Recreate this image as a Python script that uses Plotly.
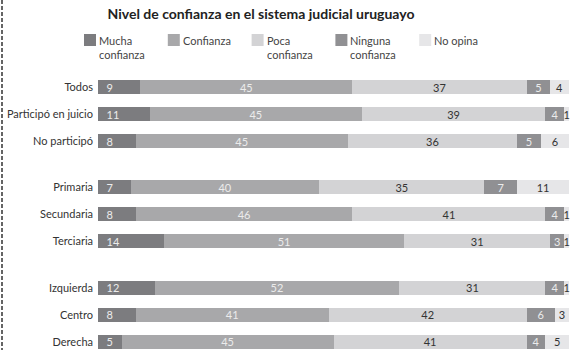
import plotly.graph_objects as go

# Survey groups (rows) and the share of each answer, in percent
groups = [
    ["Todos", "Participó en juicio", "No participó"],
    ["Primaria", "Secundaria", "Terciaria"],
    ["Izquierda", "Centro", "Derecha"],
]
series_names = ["Mucha<br>confianza", "Confianza", "Poca<br>confianza", "Ninguna<br>confianza", "No opina"]

mucha = [9, 11, 8, 7, 8, 14, 12, 8, 5]
confianza = [45, 45, 45, 40, 46, 51, 52, 41, 45]
poca = [37, 39, 36, 35, 41, 31, 31, 42, 41]
ninguna = [5, 4, 5, 7, 4, 3, 4, 6, 4]
no_opina = [4, 1, 6, 11, 1, 1, 1, 3, 5]

values = [mucha, confianza, poca, ninguna, no_opina]
colors = ["#7c7c7f", "#a8a8aa", "#d3d3d5", "#909093", "#e6e6e8"]
text_colors = ["#ececec", "#ececec", "#333333", "#ececec", "#333333"]
anchors = ["start", "middle", "middle", "middle", "middle"]
# small lead-in so start-anchored labels sit a little inside the bar
prefixes = ["\u2002", "", "", "", ""]

# Row positions: one unit per row, with an extra gap between groups
GROUP_GAP = 0.72
labels, ypos = [], []
for g, grp in enumerate(groups):
    for i, name in enumerate(grp):
        labels.append(name)
        ypos.append(g * (len(grp) + GROUP_GAP) + i)

FONT = "Lato"
W, H = 574, 350
ML, MR, MT, MB = 98, 5, 70, 0
PW, PH = W - ML - MR, H - MT - MB

fig = go.Figure()
for name, vals, col, tcol, anc, pre in zip(series_names, values, colors, text_colors, anchors, prefixes):
    fig.add_trace(go.Bar(
        y=ypos, x=vals, orientation="h", name=name,
        marker=dict(color=col, line=dict(width=0)),
        width=0.52,
        text=[pre + str(v) for v in vals],
        textposition="inside",
        insidetextanchor=anc,
        textangle=0,
        textfont=dict(family=FONT, size=11, color=tcol),
        cliponaxis=False,
        showlegend=False,
        hoverinfo="skip",
    ))


def px_x(px):
    return (px - ML) / PW


def px_y(py):
    return (H - MB - py) / PH


# Legend drawn as swatches plus labels
shapes, annotations = [], []
for k, (name, col) in enumerate(zip(series_names, colors)):
    x0 = 84 + k * 83.8
    shapes.append(dict(type="rect", xref="paper", yref="paper",
                       x0=px_x(x0), x1=px_x(x0 + 12), y0=px_y(46), y1=px_y(34),
                       fillcolor=col, line=dict(width=0)))
    annotations.append(dict(xref="paper", yref="paper", x=px_x(x0 + 13), y=px_y(32),
                            xanchor="left", yanchor="top", align="left", showarrow=False,
                            text=name, font=dict(family=FONT, size=11, color="#444444")))

# Dashed frame line along the left edge
shapes.append(dict(type="line", xref="paper", yref="paper",
                   x0=px_x(2), x1=px_x(2), y0=px_y(0), y1=px_y(H),
                   line=dict(color="#333333", width=1.5, dash="4px,2px")))

fig.update_layout(
    barmode="stack",
    width=W, height=H,
    margin=dict(l=ML, r=MR, t=MT, b=MB),
    paper_bgcolor="white", plot_bgcolor="white",
    font=dict(family=FONT, size=11, color="#333333"),
    uniformtext=dict(minsize=11, mode="show"),
    title=dict(text="<b>Nivel de confianza en el sistema judicial uruguayo</b>",
               x=261 / W, xanchor="center", xref="container",
               y=1 - 14 / H, yanchor="middle", yref="container",
               font=dict(family=FONT, size=14, color="#222222")),
    xaxis=dict(range=[0, 100], visible=False),
    yaxis=dict(tickvals=ypos, ticktext=labels, range=[(H - 87) / 27, -17 / 27],
               showgrid=False, zeroline=False, showline=False, ticks="",
               ticklabelstandoff=4,
               tickfont=dict(family=FONT, size=11, color="#333333")),
    shapes=shapes,
    annotations=annotations,
)

fig.write_html("out.html")
